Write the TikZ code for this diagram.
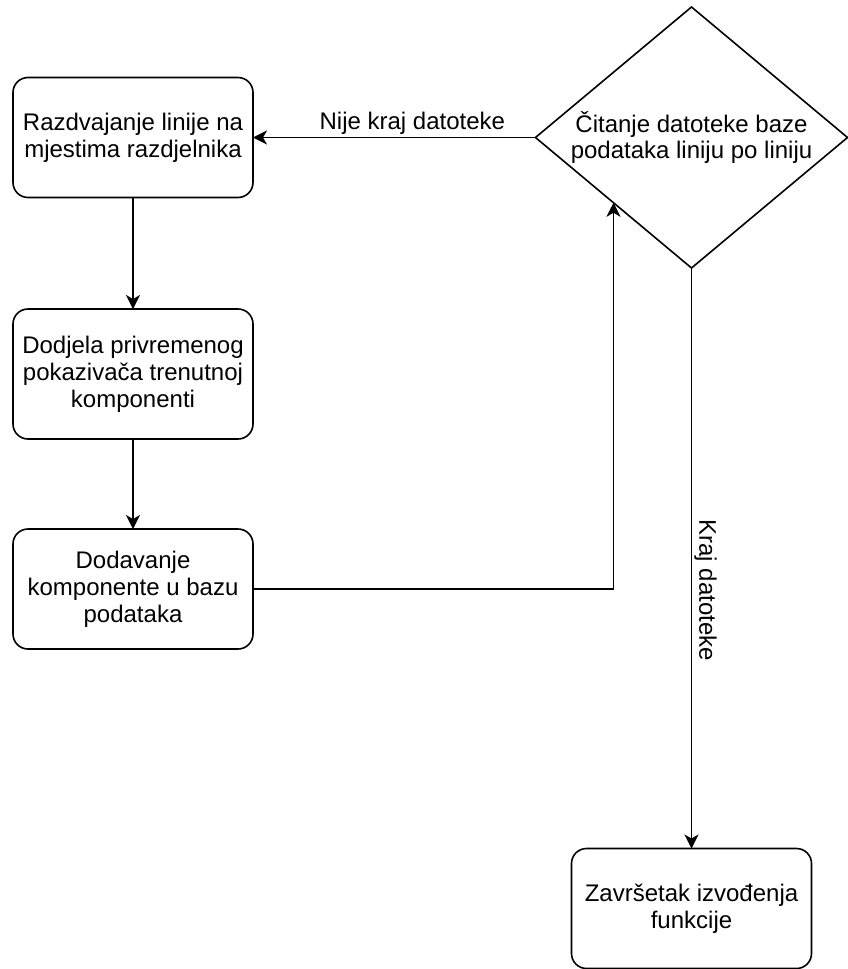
\documentclass[tikz,border=0pt]{standalone}
\usepackage{fontspec}
\setmainfont{Liberation Sans}
\usetikzlibrary{arrows.meta,shapes.geometric}

\begin{document}
\begin{tikzpicture}[x=1pt,y=-1pt,>={Stealth[length=14pt,width=14pt,inset=4pt]},
line width=1.6pt,font=\fontsize{24}{27}\selectfont]
\tikzstyle{korak}=[draw=black,rounded corners=15pt,minimum width=240pt,minimum height=120pt,align=center,inner sep=0pt,outer sep=0pt]
\tikzstyle{odluka}=[draw=black,diamond,aspect=1.2,minimum width=312pt,minimum height=261pt,align=center,inner sep=0pt,outer sep=0pt]
\tikzstyle{oznaka}=[inner sep=2pt,anchor=south]

\useasboundingbox (0,0) rectangle (847,969);

\node[korak]                      (razdvajanje) at (133,137.5) {Razdvajanje linije na\\mjestima razdjelnika};
\node[korak,minimum height=130pt] (dodjela)     at (133,374)   {Dodjela privremenog\\pokazivača trenutnoj\\komponenti};
\node[korak]                      (dodavanje)   at (133,589)   {Dodavanje\\komponente u bazu\\podataka};
\node[odluka]                     (citanje)     at (691.5,137.5) {Čitanje datoteke baze\\podataka liniju po liniju};
\node[korak]                      (zavrsetak)   at (691.5,908.5) {Završetak izvođenja\\funkcije};

\path[->]
(citanje.west)      edge node[oznaka,pos=0.436]           {Nije kraj datoteke} (razdvajanje.east)
(razdvajanje)       edge                                  (dodjela)
(dodjela)           edge                                  (dodavanje)
(citanje.south)     edge node[oznaka,rotate=-90,pos=0.555] {Kraj datoteke}     (zavrsetak.north);

\draw[->] (dodavanje.east) -| (citanje.south west);
\end{tikzpicture}
\end{document}
